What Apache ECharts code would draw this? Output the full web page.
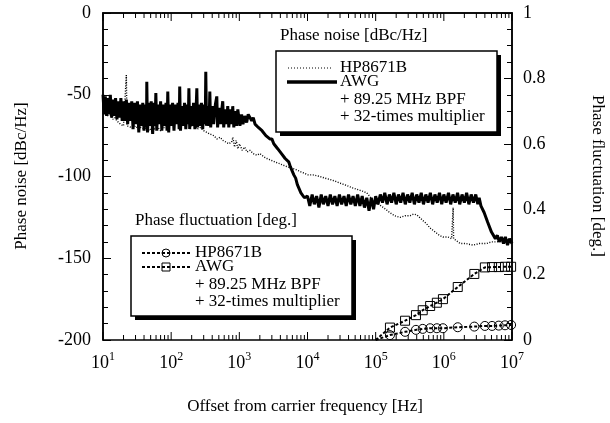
<!DOCTYPE html>
<html>
<head>
<meta charset="utf-8">
<script src="https://cdn.jsdelivr.net/npm/echarts@6/dist/echarts.min.js"></script>
<style>
html, body { margin: 0; padding: 0; background: #fff; }
#chart { width: 610px; height: 423px; }
</style>
</head>
<body>
<div id="chart"></div>
<script>
var FONT = '"Liberation Serif", "DejaVu Serif", serif';

// phase noise, HP8671B [Hz, dBc/Hz]
var hpNoise = [
    [10, -61], [11, -62], [12, -63], [13, -62.5], [14, -65], [15, -64], [16, -66], [17, -65.5],
    [18, -68], [19, -67], [20, -69], [21, -68], [22, -38], [22.5, -69], [24, -68], [26, -70],
    [28, -70], [30, -69], [33, -71], [36, -70], [40, -71], [44, -70], [48, -72], [53, -70],
    [58, -71], [64, -70], [70, -72], [77, -70], [85, -70], [93, -69], [100, -68], [110, -67],
    [122, -66], [135, -67], [150, -66], [165, -68], [180, -67], [200, -69], [220, -69], [240, -71],
    [270, -70], [300, -72], [334, -73], [370, -74], [420, -75], [470, -77], [520, -76], [580, -78],
    [640, -79], [700, -80], [770, -79], [805, -76], [850, -82], [900, -78], [950, -83], [1010, -80],
    [1100, -84], [1200, -82], [1300, -85], [1430, -84], [1600, -86], [1800, -87], [2000, -86],
    [2300, -88], [2540, -89], [2900, -90], [3300, -91], [3800, -92], [4360, -93], [5000, -94],
    [6000, -95], [7000, -96], [7800, -97], [9000, -98], [10200, -99], [12000, -99], [15200, -100],
    [18000, -101], [22000, -102], [26000, -103], [29600, -104], [35000, -105], [40000, -106],
    [46000, -107], [55000, -108], [64000, -109], [74000, -110], [85000, -113], [95000, -115],
    [104000, -116], [120000, -118], [140000, -120], [160000, -122], [190000, -124], [228000, -125],
    [270000, -124], [320000, -124], [360000, -123], [403000, -123.5], [440000, -125], [494000, -127],
    [560000, -129], [627000, -131.5], [750000, -134], [860000, -136], [973000, -137], [1150000, -137],
    [1300000, -138], [1350000, -137], [1370000, -119], [1390000, -138], [1500000, -139],
    [1740000, -141], [2100000, -141], [2700000, -142], [3300000, -141], [4200000, -141],
    [5000000, -140], [6000000, -140], [7500000, -139], [9400000, -139], [10000000, -139]
];

// phase noise, AWG + 89.25 MHz BPF + 32-times multiplier [Hz, dBc/Hz]
var awgNoise = [
    [10, -50], [10.4, -62], [10.8, -51], [11.3, -63], [11.8, -52], [12.3, -62], [12.8, -50], [13.4, -64],
    [14, -53], [14.6, -63], [15.3, -52], [16, -65], [16.7, -54], [17.5, -64], [18.3, -52], [19.1, -66],
    [20, -54], [21, -66], [22, -53], [23, -68], [24, -55], [25.2, -66], [26.4, -54], [27.6, -71],
    [29, -55], [30.4, -68], [32, -54], [33.5, -73], [35, -56], [36.6, -69], [38.3, -55], [40, -72],
    [42, -56], [43.5, -70], [43.9, -42], [44.5, -42], [45, -73], [47, -55], [49, -69], [51, -54],
    [53.5, -74], [56, -55], [58, -69], [59.6, -49], [60.4, -49], [61.5, -72], [64, -56], [67, -68],
    [70, -54], [73, -72], [76, -56], [80, -69], [84, -55], [87, -72], [89.2, -48], [90.2, -48],
    [92, -73], [96, -56], [100, -69], [105, -55], [110, -72], [115, -56], [120, -68], [126, -55],
    [131, -71], [133.5, -45], [135, -45], [137, -72], [143, -57], [150, -69], [157, -55], [164, -71],
    [172, -56], [178, -68], [182, -46], [184, -46], [187, -71], [195, -57], [204, -69], [213, -55],
    [223, -71], [233, -57], [238, -46], [240.5, -46], [244, -70], [255, -56], [266, -69], [278, -55],
    [290, -71], [303, -56], [316, -68], [322, -36], [326, -36], [330, -69], [345, -57], [360, -69],
    [369, -48], [373, -48], [380, -70], [400, -57], [420, -68], [445, -56], [467, -51], [473, -51],
    [480, -70], [505, -58], [535, -68], [560, -57], [571, -54], [577, -54], [590, -70], [620, -59],
    [650, -68], [676, -57], [684, -57], [700, -70], [740, -59], [780, -68], [800, -57], [810, -57],
    [830, -70], [870, -60], [910, -69], [950, -59], [983, -58], [995, -58], [1020, -69], [1080, -62],
    [1130, -68], [1200, -63], [1280, -67], [1350, -62], [1430, -63], [1520, -66], [1600, -64],
    [1700, -68], [1800, -67], [1900, -70], [2000, -69], [2150, -72], [2300, -71], [2450, -75],
    [2600, -74], [2800, -77], [3000, -77], [3200, -80], [3400, -80], [3650, -83], [3900, -83],
    [4150, -86], [4400, -86], [4700, -89], [5000, -90], [5300, -91], [5600, -94], [5900, -95],
    [6300, -99], [6700, -101], [7100, -105], [7500, -106], [8000, -110], [8500, -110], [9000, -113],
    [9600, -113], [10000, -112], [10800, -118], [11700, -111], [12600, -117], [13600, -112],
    [14700, -119], [15900, -111], [17100, -117], [18500, -112], [20000, -118], [21600, -111],
    [23300, -117], [25200, -112], [27200, -118], [29400, -111], [31700, -117], [34300, -112],
    [37000, -118], [40000, -111], [43200, -117], [46600, -112], [50300, -118], [54400, -111],
    [58700, -118], [63400, -112], [68500, -119], [74000, -113], [79900, -121], [86300, -113],
    [93200, -120], [100000, -112], [108000, -117], [117000, -111], [126000, -116], [136000, -110],
    [147000, -117], [159000, -111], [171000, -116], [185000, -110], [200000, -117], [216000, -111],
    [233000, -116], [252000, -110], [272000, -117], [294000, -111], [317000, -116], [343000, -110],
    [370000, -117], [400000, -111], [432000, -116], [466000, -110], [503000, -117], [544000, -111],
    [587000, -116], [634000, -110], [685000, -117], [740000, -111], [799000, -116], [863000, -110],
    [932000, -117], [1000000, -111], [1080000, -116], [1170000, -110], [1260000, -117],
    [1360000, -111], [1470000, -116], [1590000, -110], [1710000, -117], [1850000, -111],
    [2000000, -116], [2160000, -110], [2330000, -117], [2520000, -111], [2720000, -116],
    [2940000, -111], [3150000, -117], [3300000, -113], [3500000, -118], [3700000, -117],
    [3900000, -122], [4100000, -123], [4400000, -128], [4700000, -129], [5000000, -134],
    [5300000, -133], [5700000, -138], [6100000, -136], [6500000, -140], [7000000, -137],
    [7500000, -141], [8000000, -137], [8600000, -142], [9200000, -138], [10000000, -141]
];

// phase fluctuation [deg.]
var flucFreq = [100000, 162000, 270000, 390000, 490000, 630000, 790000, 970000,
    1600000, 2800000, 4000000, 5100000, 6400000, 7900000, 9700000];
var hpFluc = [0, 0.015, 0.025, 0.031, 0.034, 0.036, 0.036, 0.036,
    0.039, 0.041, 0.043, 0.043, 0.044, 0.045, 0.046];
var awgFluc = [0, 0.038, 0.059, 0.076, 0.091, 0.104, 0.114, 0.125,
    0.162, 0.202, 0.222, 0.223, 0.223, 0.224, 0.224];

// log tick marks: [frequency, y, major?]
var xTicks = [];
for (var d = 10; d < 1e7; d *= 10) {
    for (var m = 1; m < 10; m++) xTicks.push([d * m, -100, m === 1 ? 1 : 0]);
}
xTicks.push([1e7, -100, 1]);

function flucData(ys) {
    return flucFreq.map(function (f, i) {
        return i === 0 ? { value: [f, ys[i]], symbol: 'none' } : [f, ys[i]];
    });
}

function renderTick(params, api) {
    var x = api.coord([api.value(0), 0])[0];
    var top = params.coordSys.y;
    var bottom = top + params.coordSys.height;
    var len = api.value(2) ? 8 : 5;
    var st = { stroke: '#000', lineWidth: 1 };
    return {
        type: 'group',
        children: [
            { type: 'line', shape: { x1: x, y1: bottom, x2: x, y2: bottom - len }, style: st },
            { type: 'line', shape: { x1: x, y1: top, x2: x, y2: top + len }, style: st }
        ]
    };
}

function txt(x, y, s, extra) {
    var o = {
        type: 'text', x: x, y: y, z: 20,
        style: { text: s, font: '17px ' + FONT, fill: '#000', textVerticalAlign: 'middle' }
    };
    if (extra) for (var k in extra) o.style[k] = extra[k];
    return o;
}

function box(x, y, w, h) {
    return [
        { type: 'rect', z: 18, shape: { x: x + 4, y: y + 4, width: w, height: h }, style: { fill: '#000' } },
        { type: 'rect', z: 19, shape: { x: x, y: y, width: w, height: h }, style: { fill: '#fff', stroke: '#000', lineWidth: 1.5 } }
    ];
}

function seg(x1, x2, y, style) {
    style.stroke = '#000';
    return { type: 'line', z: 20, shape: { x1: x1, y1: y, x2: x2, y2: y }, style: style };
}

var graphics = [].concat(
    [
        txt(22, 176, 'Phase noise [dBc/Hz]', { textAlign: 'center' }),
        txt(597, 176, 'Phase fluctuation [deg.]', { textAlign: 'center' }),
        txt(305, 407, 'Offset from carrier frequency [Hz]', { textAlign: 'center' })
    ],
    box(276, 51, 221, 81),
    [
        txt(280, 36, 'Phase noise [dBc/Hz]'),
        seg(288, 331, 68, { lineWidth: 1, lineDash: [1, 2] }),
        seg(287, 337, 82, { lineWidth: 3.5 }),
        txt(340, 68, 'HP8671B'),
        txt(340, 82, 'AWG'),
        txt(340, 100, '+ 89.25 MHz BPF'),
        txt(340, 117, '+ 32-times multiplier')
    ],
    box(131, 236, 221, 80),
    [
        txt(135, 221, 'Phase fluctuation [deg.]'),
        seg(142, 190, 253, { lineWidth: 2, lineDash: [3, 2] }),
        seg(142, 190, 267, { lineWidth: 2, lineDash: [3, 2] }),
        { type: 'circle', z: 21, shape: { cx: 166, cy: 253, r: 4 }, style: { fill: 'none', stroke: '#000', lineWidth: 1 } },
        { type: 'rect', z: 21, shape: { x: 162, y: 263, width: 8, height: 8 }, style: { fill: 'none', stroke: '#000', lineWidth: 1 } },
        txt(195, 253, 'HP8671B'),
        txt(195, 267, 'AWG'),
        txt(195, 285, '+ 89.25 MHz BPF'),
        txt(195, 302, '+ 32-times multiplier')
    ]
);
graphics[0].rotation = Math.PI / 2;
graphics[1].rotation = -Math.PI / 2;

var chart = echarts.init(document.getElementById('chart'), null, { renderer: 'canvas' });

var axisLine = { show: true, lineStyle: { color: '#000', width: 1.5 } };

chart.setOption({
    animation: false,
    backgroundColor: '#fff',
    grid: { left: 103, right: 98, top: 13, bottom: 83, show: true, borderColor: '#000', borderWidth: 1.5 },
    xAxis: {
        type: 'log', logBase: 10, min: 10, max: 1e7, splitNumber: 6,
        axisLine: axisLine,
        axisTick: { show: false },
        splitLine: { show: false },
        axisLabel: {
            margin: 11,
            formatter: function (v) {
                return '{b|10}{s|' + Math.round(Math.log(v) / Math.LN10) + '}';
            },
            rich: {
                b: { fontSize: 18, fontFamily: FONT, color: '#000', lineHeight: 24 },
                s: { fontSize: 12, fontFamily: FONT, color: '#000', lineHeight: 24, verticalAlign: 'top' }
            }
        }
    },
    yAxis: [
        {
            type: 'value', min: -200, max: 0, interval: 50, position: 'left',
            axisLine: axisLine,
            axisTick: { show: true, inside: true, length: 8, lineStyle: { color: '#000', width: 1 } },
            minorTick: { show: true, splitNumber: 5, length: 5, lineStyle: { color: '#000', width: 1 } },
            splitLine: { show: false },
            axisLabel: { margin: 12, color: '#000', fontSize: 18, fontFamily: FONT }
        },
        {
            type: 'value', min: 0, max: 1, interval: 0.2, position: 'right',
            axisLine: axisLine,
            axisTick: { show: true, inside: true, length: 8, lineStyle: { color: '#000', width: 1 } },
            minorTick: { show: true, splitNumber: 4, length: 5, lineStyle: { color: '#000', width: 1 } },
            splitLine: { show: false },
            axisLabel: { margin: 11, color: '#000', fontSize: 18, fontFamily: FONT }
        }
    ],
    series: [
        {
            name: 'ticks', type: 'custom', renderItem: renderTick, data: xTicks,
            encode: { x: 0, y: 1 }, silent: true, z: 5
        },
        {
            name: 'HP8671B noise', type: 'line', data: hpNoise, showSymbol: false, symbol: 'none',
            lineStyle: { color: '#000', width: 1.4, type: [1, 1.6] }, z: 3
        },
        {
            name: 'AWG noise', type: 'line', data: awgNoise, showSymbol: false, symbol: 'none',
            lineStyle: { color: '#000', width: 3 }, z: 4
        },
        {
            name: 'HP8671B fluctuation', type: 'line', yAxisIndex: 1, data: flucData(hpFluc),
            symbol: 'circle', symbolSize: 9, showAllSymbol: true,
            itemStyle: { color: 'rgba(0,0,0,0)', borderColor: '#000', borderWidth: 1 },
            lineStyle: { color: '#000', width: 2, type: [3, 2] }, z: 6
        },
        {
            name: 'AWG fluctuation', type: 'line', yAxisIndex: 1, data: flucData(awgFluc),
            symbol: 'rect', symbolSize: 9, showAllSymbol: true,
            itemStyle: { color: 'rgba(0,0,0,0)', borderColor: '#000', borderWidth: 1 },
            lineStyle: { color: '#000', width: 2, type: [3, 2] }, z: 6
        }
    ],
    graphic: graphics
});
</script>
</body>
</html>
